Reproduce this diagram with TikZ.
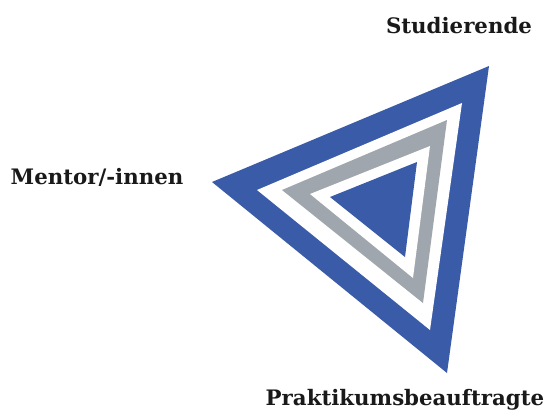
\documentclass[tikz,border=0pt]{standalone}
\usepackage{fontspec}
\setmainfont{DejaVu Serif}
\definecolor{triblue}{RGB}{58,91,168}
\definecolor{trigrey}{RGB}{160,166,174}
\tikzset{
  lbl/.style={font=\bfseries\fontsize{21.3}{24}\selectfont, text=black!90, inner sep=0pt, anchor=base}
}
\begin{document}
\begin{tikzpicture}[x=1pt,y=-1pt]
\useasboundingbox (0,0) rectangle (546,410);
% outer blue
\fill[triblue] (489,66) -- (212,182) -- (447,373) -- cycle;
\fill[white] (462,103) -- (257,190) -- (430,330) -- cycle;
\fill[trigrey] (447,120) -- (282,190) -- (423,303) -- cycle;
\fill[white] (430,146) -- (310,194) -- (413,278) -- cycle;
\fill[triblue] (417,162) -- (330,197) -- (405,257) -- cycle;
\node[lbl] (stud) at (459,33) {Studierende};
\node[lbl] (ment) at (97,184) {Mentor/-innen};
\node[lbl] (prak) at (405,405) {Praktikumsbeauftragte};
\end{tikzpicture}
\end{document}
